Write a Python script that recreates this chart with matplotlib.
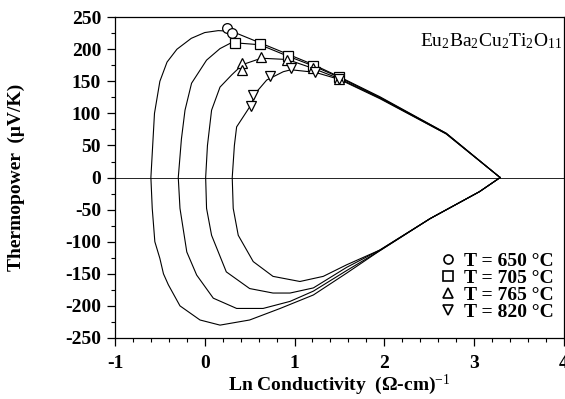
import numpy as np
import matplotlib
matplotlib.use("Agg")
import matplotlib.pyplot as plt
from matplotlib.ticker import MultipleLocator

plt.rcParams['font.family'] = ['Liberation Serif', 'DejaVu Serif']
plt.rcParams['mathtext.fontset'] = 'custom'
plt.rcParams['mathtext.rm'] = 'Liberation Serif'
plt.rcParams['mathtext.it'] = 'Liberation Serif:italic'
plt.rcParams['mathtext.bf'] = 'Liberation Serif:bold'
plt.rcParams['axes.unicode_minus'] = False

# Jonker-type loops (ln sigma, S in uV/K)
loop_650_x = [3.29, 2.69, 1.95, 1.50, 1.21, 0.93, 0.615, 0.30, 0.15, 0.0, -0.15, -0.31, -0.42, -0.50, -0.56, -0.58, -0.60,
              -0.585, -0.556, -0.50, -0.46, -0.406, -0.276, -0.053, 0.17, 0.50, 0.84, 1.21, 1.58, 1.95, 2.51, 3.06, 3.29]
loop_650_y = [0, 69, 126, 157, 176, 192, 210, 228, 229, 226, 217, 200, 180, 150, 100, 50, 0,
              -48, -100, -126, -150, -167, -200, -222, -230, -222, -204, -183, -149, -114, -64, -22, 0]

loop_705_x = [3.29, 2.69, 1.95, 1.50, 1.21, 0.93, 0.615, 0.336, 0.28, 0.17, 0.02, -0.147, -0.22, -0.26, -0.295,
              -0.276, -0.20, -0.09, 0.095, 0.355, 0.65, 0.95, 1.21, 1.58, 1.95, 2.51, 3.06, 3.29]
loop_705_y = [0, 69, 125, 156, 174, 189, 207, 210, 209, 201, 183, 147, 105, 60, 0,
              -48, -116, -152, -188, -204, -204, -193, -177, -145, -114, -64, -22, 0]

loop_765_x = [3.29, 2.69, 1.95, 1.50, 1.21, 0.92, 0.63, 0.42, 0.30, 0.17, 0.076, 0.03, 0.01,
              0.02, 0.076, 0.24, 0.50, 0.76, 0.95, 1.21, 1.58, 1.95, 2.51, 3.06, 3.29]
loop_765_y = [0, 68, 124, 154, 170, 184, 186, 176, 160, 141, 105, 50, 0,
              -48, -90, -147, -173, -180, -180, -172, -140, -113, -64, -22, 0]

loop_820_x = [3.29, 2.69, 1.95, 1.50, 1.23, 0.96, 0.875, 0.69, 0.58, 0.50, 0.43, 0.355, 0.33, 0.306,
              0.317, 0.373, 0.54, 0.76, 1.06, 1.32, 1.58, 1.95, 2.51, 3.06, 3.29]
loop_820_y = [0, 68, 123, 153, 164, 168, 165, 152, 134, 110, 95, 79, 50, 0,
              -48, -90, -131, -154, -162, -154, -136, -113, -64, -22, 0]

# measured points
pts_650_x = [0.25, 0.30]
pts_650_y = [233, 226]
pts_705_x = [0.336, 0.615, 0.93, 1.21, 1.50]
pts_705_y = [210, 208, 189, 174, 156]
pts_765_x = [0.42, 0.42, 0.63, 0.92, 1.21, 1.49]
pts_765_y = [179, 167, 188, 184, 170, 154]
pts_820_x = [0.51, 0.533, 0.726, 0.96, 1.23, 1.50]
pts_820_y = [111, 128, 158, 170, 165, 153]

labels = ['T = 650 °C', 'T = 705 °C', 'T = 765 °C', 'T = 820 °C']

fig = plt.figure(figsize=(5.65, 3.99), dpi=100)
ax = fig.add_axes([0.2035, 0.153, 0.7945, 0.804])

for lx, ly in [(loop_650_x, loop_650_y), (loop_705_x, loop_705_y),
               (loop_765_x, loop_765_y), (loop_820_x, loop_820_y)]:
    ax.plot(lx, ly, color='black', lw=0.8)

ax.axhline(0, color='black', lw=0.6)

mk = dict(linestyle='none', mfc='white', mec='black', mew=0.9, ms=7)
ax.plot(pts_650_x, pts_650_y, marker='o', label=labels[0], **mk)
ax.plot(pts_705_x, pts_705_y, marker='s', label=labels[1], **mk)
ax.plot(pts_765_x, pts_765_y, marker='^', label=labels[2], **mk)
ax.plot(pts_820_x, pts_820_y, marker='v', label=labels[3], **mk)

ax.set_xlim(-1, 4)
ax.set_ylim(-250, 250)
ax.xaxis.set_major_locator(MultipleLocator(1))
ax.xaxis.set_minor_locator(MultipleLocator(0.2))
ax.yaxis.set_major_locator(MultipleLocator(50))
ax.yaxis.set_minor_locator(MultipleLocator(25))
ax.tick_params(which='major', direction='out', length=6, width=0.9, labelsize=14)
ax.tick_params(axis='y', which='major', pad=4)
ax.tick_params(axis='x', which='major', pad=6)
ax.tick_params(which='minor', direction='out', length=3, width=0.8)
for lab in ax.get_xticklabels() + ax.get_yticklabels():
    lab.set_fontweight('bold')
for sp in ax.spines.values():
    sp.set_linewidth(0.9)

ax.set_xlabel('Ln Conductivity  (Ω-cm)$^{-1}$', fontsize=14, fontweight='bold')
ax.set_ylabel('Thermopower  (μV/K)', fontsize=14, fontweight='bold')
ax.xaxis.set_label_coords(0.5, -0.145)
ax.xaxis.label.set_va('center')
ax.yaxis.set_label_coords(-0.2205, 0.5)
ax.yaxis.label.set_va('center')

ax.text(0.997, 0.925, r'Eu$_2$Ba$_2$Cu$_2$Ti$_2$O$_{11}$', transform=ax.transAxes,
        ha='right', va='center', fontsize=14)

leg = ax.legend(loc='lower right', bbox_to_anchor=(1.0, 0.022), frameon=False,
                fontsize=14, handletextpad=0.35, labelspacing=-0.02, handlelength=1.0,
                borderaxespad=0.1)
for t in leg.get_texts():
    t.set_fontweight('bold')
for h in leg.legend_handles:
    h.set_markersize(6.5)
    h.set_markeredgewidth(1.2)

fig.savefig('out.png', dpi=100)
